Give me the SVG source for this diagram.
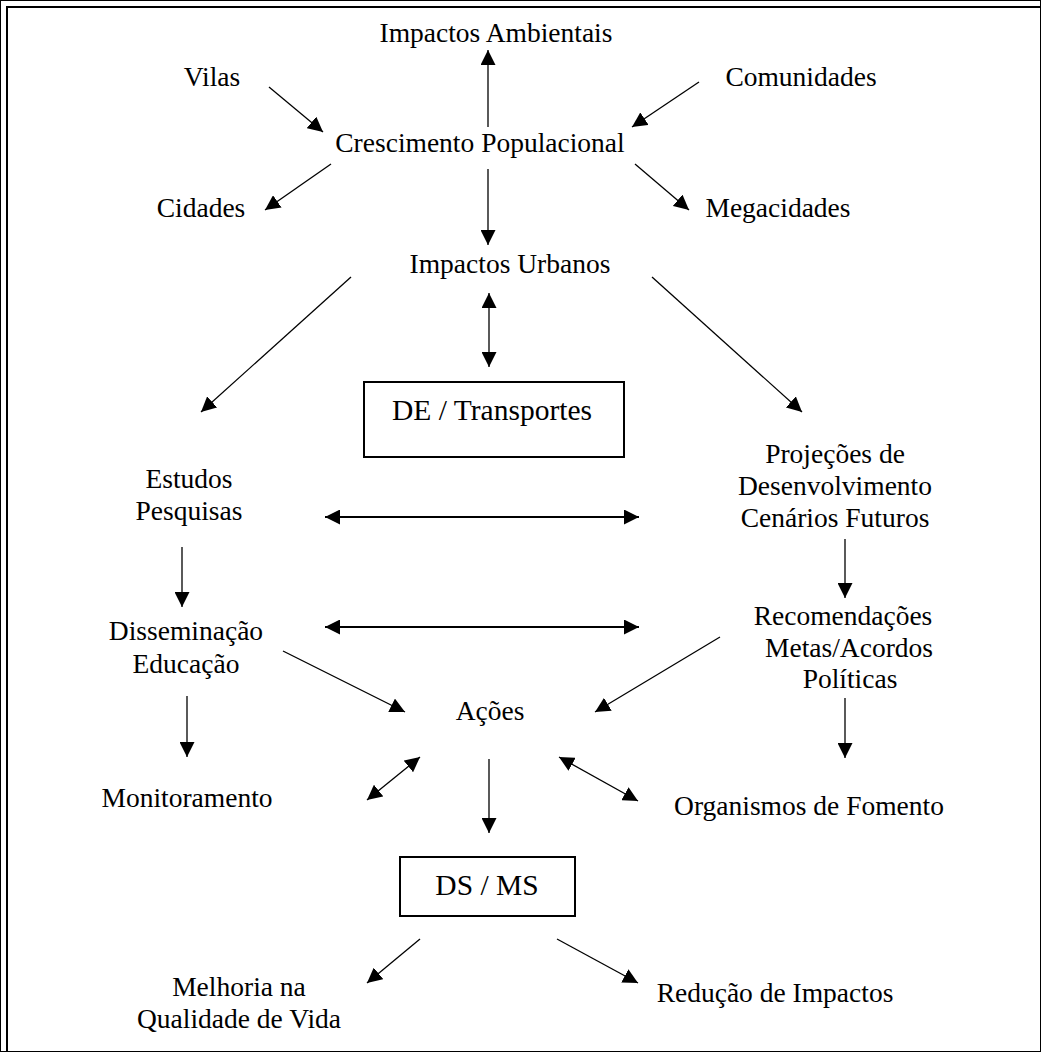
<svg xmlns="http://www.w3.org/2000/svg" width="1041" height="1052" viewBox="0 0 1041 1052">
<style>
text{font-family:"Liberation Serif","Times New Roman",serif;font-size:27.5px;fill:#000;text-anchor:middle}
text.box{font-size:29.5px}
.c line{stroke:#000;stroke-width:1.3;fill:none;marker-end:url(#ah)}
.c line.d{marker-start:url(#ah)}
.c line.w{stroke-width:2}
rect{fill:#fff;stroke:#000;stroke-width:2}
</style>
<defs>
<marker id="ah" markerUnits="userSpaceOnUse" markerWidth="15" markerHeight="15" refX="14" refY="7" orient="auto-start-reverse" viewBox="0 0 14 14">
<path d="M0,0 L14,7 L0,14 z" fill="#000"/>
</marker>
</defs>
<rect width="1041" height="1052" fill="#fff" stroke="none"/>
<g id="frame" stroke="#000" stroke-width="2" fill="none">
<line x1="7" y1="7" x2="1041" y2="7"/>
<line x1="7" y1="6" x2="7" y2="1052"/>
</g>
<g id="connectors" class="c">
<line x1="488" y1="127" x2="488" y2="50"/>
<line x1="269" y1="87" x2="323" y2="132"/>
<line x1="699" y1="82" x2="632" y2="127"/>
<line x1="331" y1="164" x2="265" y2="210"/>
<line x1="635" y1="164" x2="689" y2="210"/>
<line x1="488" y1="169" x2="488" y2="245"/>
<line x1="351" y1="277" x2="201" y2="412"/>
<line class="d" x1="489" y1="293" x2="489" y2="367"/>
<line x1="652" y1="277" x2="802" y2="412"/>
<line class="d w" x1="325" y1="517" x2="639" y2="517"/>
<line x1="182" y1="547" x2="182" y2="607"/>
<line x1="845" y1="539" x2="845" y2="598"/>
<line class="d w" x1="325" y1="627" x2="639" y2="627"/>
<line x1="283" y1="651" x2="405" y2="712"/>
<line x1="720" y1="637" x2="595" y2="712"/>
<line x1="187" y1="696" x2="187" y2="757"/>
<line x1="845" y1="698" x2="845" y2="758"/>
<line class="d" x1="367" y1="800" x2="420" y2="757"/>
<line class="d" x1="559" y1="757" x2="638" y2="801"/>
<line x1="489" y1="759" x2="489" y2="833"/>
<line x1="420" y1="939" x2="367" y2="983"/>
<line x1="557" y1="939" x2="638" y2="983"/>
</g>
<g id="impactos-ambientais"><text x="496" y="42">Impactos Ambientais</text></g>
<g id="vilas"><text x="212" y="86">Vilas</text></g>
<g id="comunidades"><text x="801" y="86">Comunidades</text></g>
<g id="crescimento"><text x="480" y="152">Crescimento Populacional</text></g>
<g id="cidades"><text x="201" y="217">Cidades</text></g>
<g id="megacidades"><text x="778" y="217">Megacidades</text></g>
<g id="impactos-urbanos"><text x="510" y="273">Impactos Urbanos</text></g>
<g id="de-transportes"><rect x="364" y="382" width="260" height="75"/><text class="box" x="492" y="420">DE / Transportes</text></g>
<g id="estudos"><text x="189" y="488">Estudos</text><text x="189" y="520">Pesquisas</text></g>
<g id="projecoes"><text x="835" y="463">Projeções de</text><text x="835" y="495">Desenvolvimento</text><text x="835" y="527">Cenários Futuros</text></g>
<g id="disseminacao"><text x="186" y="640">Disseminação</text><text x="186" y="673">Educação</text></g>
<g id="recomendacoes"><text x="843" y="625">Recomendações</text><text x="849" y="657">Metas/Acordos</text><text x="850" y="688">Políticas</text></g>
<g id="acoes"><text x="490" y="720">Ações</text></g>
<g id="monitoramento"><text x="187" y="807">Monitoramento</text></g>
<g id="organismos"><text x="809" y="815">Organismos de Fomento</text></g>
<g id="ds-ms"><rect x="400" y="857" width="175" height="59"/><text class="box" x="487" y="895">DS / MS</text></g>
<g id="melhoria"><text x="239" y="996">Melhoria na</text><text x="239" y="1028">Qualidade de Vida</text></g>
<g id="reducao"><text x="775" y="1002">Redução de Impactos</text></g>
</svg>
